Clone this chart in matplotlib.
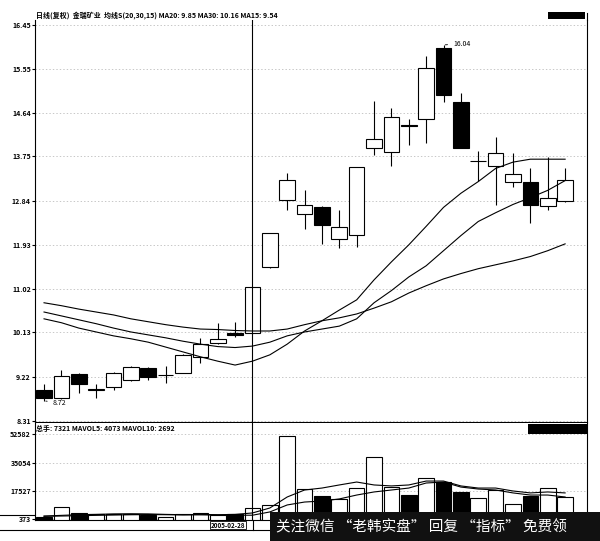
import matplotlib
matplotlib.use('Agg')
import matplotlib.pyplot as plt
from matplotlib.patches import Rectangle
from matplotlib.lines import Line2D
import numpy as np

plt.rcParams['font.family'] = ['Noto Sans CJK SC', 'DejaVu Sans']

# daily candles: open, high, low, close
opens  = [8.95, 8.78, 9.27, 8.95, 9.01, 9.15, 9.40, 9.25, 9.30, 9.63, 9.91, 10.12, 10.12, 11.48, 12.86, 12.57,
          12.70, 12.04, 12.14, 13.91, 13.83, 14.40, 14.51, 15.98, 14.86, 13.65, 13.54, 13.23, 13.23, 12.72, 12.84]
highs  = [9.07, 9.36, 9.29, 9.07, 9.31, 9.44, 9.42, 9.44, 9.68, 10.02, 10.33, 10.35, 11.07, 12.18, 13.40, 13.05,
          12.72, 12.64, 13.52, 14.88, 14.74, 14.51, 15.81, 16.04, 15.05, 13.85, 14.14, 13.81, 13.50, 13.73, 13.50]
lows   = [8.72, 8.76, 8.88, 8.78, 8.95, 9.13, 9.15, 9.09, 9.29, 9.50, 9.89, 10.04, 10.10, 11.46, 12.64, 12.26,
          11.95, 11.87, 11.89, 13.77, 13.56, 13.98, 14.02, 14.86, 13.91, 13.25, 12.74, 13.11, 12.37, 12.64, 12.82]
closes = [8.78, 9.23, 9.07, 8.95, 9.30, 9.42, 9.21, 9.25, 9.67, 9.89, 10.00, 10.08, 11.07, 12.18, 13.27, 12.74,
          12.33, 12.29, 13.52, 14.10, 14.55, 14.38, 15.56, 15.01, 13.93, 13.65, 13.81, 13.38, 12.74, 12.90, 13.27]

ma15 = [10.41, 10.33, 10.22, 10.14, 10.06, 10.00, 9.93, 9.83, 9.73, 9.63, 9.54, 9.46, 9.54, 9.67, 9.89, 10.16,
        10.37, 10.59, 10.80, 11.21, 11.58, 11.93, 12.31, 12.70, 12.99, 13.23, 13.50, 13.63, 13.69, 13.69, 13.69]
ma20 = [10.55, 10.47, 10.39, 10.31, 10.22, 10.14, 10.08, 10.02, 9.95, 9.89, 9.84, 9.82, 9.85, 9.93, 10.06, 10.14,
        10.20, 10.26, 10.41, 10.74, 10.99, 11.27, 11.50, 11.81, 12.12, 12.41, 12.59, 12.76, 12.90, 13.05, 13.25]
ma30 = [10.74, 10.68, 10.61, 10.55, 10.49, 10.41, 10.35, 10.29, 10.24, 10.20, 10.19, 10.17, 10.16, 10.16, 10.20, 10.29,
        10.37, 10.43, 10.51, 10.63, 10.76, 10.94, 11.09, 11.23, 11.34, 11.44, 11.52, 11.60, 11.69, 11.81, 11.95]

volume = [1600, 7700, 4000, 3400, 3400, 3400, 2800, 1600, 3400, 4000, 2800, 3400, 7321, 8980, 51400, 18800,
          14500, 12700, 19400, 38500, 20000, 15100, 25600, 23100, 17000, 13300, 18200, 9600, 14500, 19400, 13900]
mavol5 = [2200, 2600, 3000, 3200, 3500, 3600, 3500, 3200, 3000, 3200, 3000, 3200, 4073, 7130, 13900, 18200,
          19400, 21300, 23100, 21300, 20700, 21300, 23700, 23700, 20700, 19400, 19400, 17600, 16400, 17000, 16400]
mavol10 = [2000, 2200, 2400, 2600, 2800, 3000, 3100, 3000, 2900, 2900, 2800, 2700, 2692, 4700, 9000, 10800,
           11400, 12700, 15100, 17000, 18200, 19400, 22500, 23100, 20000, 18800, 18200, 16400, 15100, 15100, 13900]

price_ticks = [8.31, 9.22, 10.13, 11.02, 11.93, 12.84, 13.75, 14.64, 15.55, 16.45]
vol_ticks = [373, 17527, 35054, 52582]
cursor = 12

W, H = 600, 541
fig = plt.figure(figsize=(6.0, 5.41), dpi=100)

def fx(px):
    return px / W

def fy(py):
    return 1 - py / H

ax = fig.add_axes([fx(35), fy(422), fx(552), (422 - 20) / H])
axv = fig.add_axes([fx(35), fy(520), fx(552), (520 - 423) / H])

x = np.arange(len(opens))
w = 0.9
for i in x:
    o, h, l, c = opens[i], highs[i], lows[i], closes[i]
    fc = 'black' if c < o else 'white'
    ax.vlines(i, l, h, color='black', lw=0.8, zorder=2)
    bot = min(o, c)
    hgt = max(abs(c - o), 0.012)
    ax.add_patch(Rectangle((i - w / 2, bot), w, hgt, facecolor=fc, edgecolor='black', lw=0.8, zorder=3))

ax.plot(x, ma15, color='black', lw=0.8, zorder=4)
ax.plot(x, ma20, color='black', lw=0.8, zorder=4)
ax.plot(x, ma30, color='black', lw=0.8, zorder=4)

ax.set_xlim(-0.52, 31.26)
ax.set_ylim(8.29, 16.55)
ax.set_yticks(price_ticks)
ax.set_yticklabels([f'{t:.2f}' for t in price_ticks], fontsize=5, fontweight='bold')
ax.set_xticks([])
for t in price_ticks:
    ax.axhline(t, color='#b0b0b0', lw=0.5, ls=(0, (2, 3)), zorder=1)
ax.axvline(cursor, color='black', lw=0.8, zorder=5)
ax.tick_params(axis='y', length=2, pad=1)
ax.spines['top'].set_visible(False)

imax = int(np.argmax(highs))
imin = int(np.argmin(lows))
ax.annotate(f'{highs[imax]:.2f}', xy=(imax + 0.1, highs[imax]), xytext=(imax + 0.55, highs[imax] + 0.02),
            fontsize=5, va='center', ha='left',
            arrowprops=dict(arrowstyle='-', lw=0.6, color='black'))
ax.annotate(f'{lows[imin]:.2f}', xy=(imin + 0.1, lows[imin]), xytext=(imin + 0.5, lows[imin] - 0.03),
            fontsize=5, va='center', ha='left',
            arrowprops=dict(arrowstyle='-', lw=0.6, color='black'))

# volume
for i in x:
    fc = 'black' if closes[i] < opens[i] else 'white'
    axv.add_patch(Rectangle((i - w / 2, 0), w, volume[i], facecolor=fc, edgecolor='black', lw=0.8, zorder=3))
axv.plot(x, mavol5, color='black', lw=0.8, zorder=4)
axv.plot(x, mavol10, color='black', lw=0.8, zorder=4)
axv.set_xlim(-0.52, 31.26)
axv.set_ylim(-250, 59400)
axv.set_yticks(vol_ticks)
axv.set_yticklabels([str(t) for t in vol_ticks], fontsize=5, fontweight='bold')
axv.set_xticks([])
for t in vol_ticks:
    axv.axhline(t, color='#b0b0b0', lw=0.5, ls=(0, (2, 3)), zorder=1)
axv.axvline(cursor, color='black', lw=0.8, zorder=5)
axv.tick_params(axis='y', length=2, pad=1)
axv.spines['top'].set_visible(False)

# right border runs up past the header
fig.lines.append(Line2D([fx(587), fx(587)], [fy(13), fy(20)], transform=fig.transFigure, color='black', lw=0.8))

# header texts
fig.text(fx(36), fy(15), '日线(复权)  金瑞矿业  均线S(20,30,15) MA20: 9.85 MA30: 10.16 MA15: 9.54',
         fontsize=5, fontweight='bold', va='center', ha='left')
fig.text(fx(36), fy(429), '总手: 7321 MAVOL5: 4073 MAVOL10: 2692',
         fontsize=5, fontweight='bold', va='center', ha='left')
fig.patches.append(Rectangle((fx(548), fy(19)), fx(37), 7 / H, transform=fig.transFigure,
                             facecolor='black', edgecolor='none'))
fig.patches.append(Rectangle((fx(528), fy(434)), fx(59), 10 / H, transform=fig.transFigure,
                             facecolor='black', edgecolor='none'))

# date strip at the bottom
fig.lines.append(Line2D([0, fx(35)], [fy(515), fy(515)], transform=fig.transFigure, color='black', lw=0.8))
fig.lines.append(Line2D([0, fx(600)], [fy(530), fy(530)], transform=fig.transFigure, color='black', lw=0.8))
fig.lines.append(Line2D([fx(253), fx(253)], [fy(520), fy(530)], transform=fig.transFigure, color='black', lw=0.8))
fig.text(fx(211), fy(525), '2005-02-28', fontsize=4.5, fontweight='bold', va='center', ha='left',
         bbox=dict(boxstyle='square,pad=0.15', facecolor='white', edgecolor='black', lw=0.6))

# watermark strip
fig.patches.append(Rectangle((fx(270), 0), fx(330), 29 / H, transform=fig.transFigure,
                             facecolor='#111111', edgecolor='none', zorder=10))
fig.text(fx(276), fy(527), '关注微信 “老韩实盘” 回复 “指标” 免费领', fontsize=10.5, color='white',
         va='center', ha='left', zorder=11)

fig.savefig('out.png', dpi=100)
